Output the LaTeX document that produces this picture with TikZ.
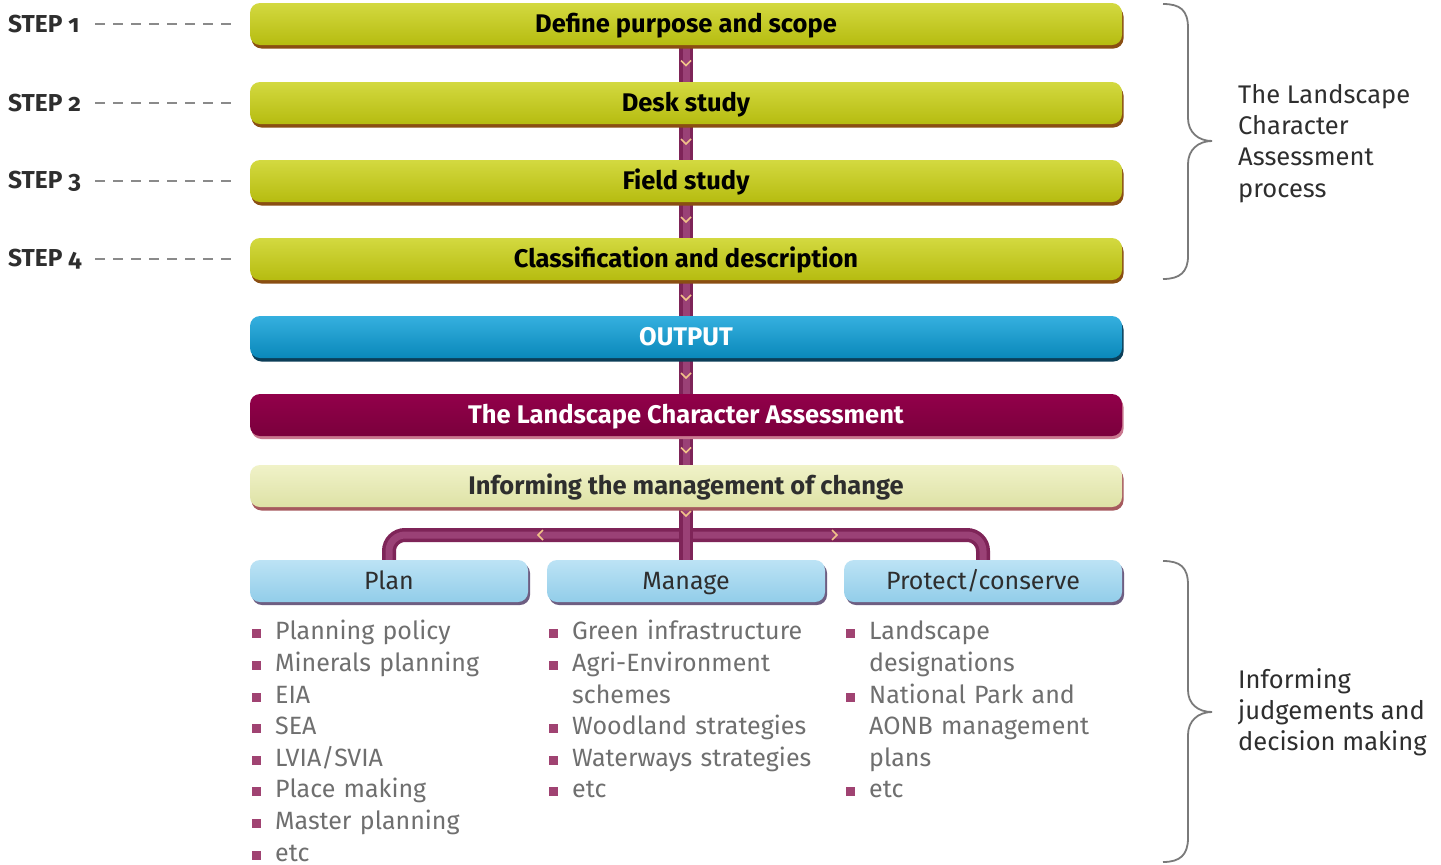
\documentclass[tikz,border=0pt]{standalone}
\usepackage{fontspec}
\setmainfont{Fira Sans}
\usetikzlibrary{shadows,calc}
\definecolor{yelT}{HTML}{D3D940}
\definecolor{yelB}{HTML}{B6BC10}
\definecolor{yelS}{HTML}{8A4E12}
\definecolor{outT}{HTML}{35B0DF}
\definecolor{outB}{HTML}{0A88BA}
\definecolor{outS}{HTML}{0B3E58}
\definecolor{lcaT}{HTML}{92004A}
\definecolor{lcaB}{HTML}{7A003C}
\definecolor{lcaS}{HTML}{C9788F}
\definecolor{infT}{HTML}{F0F2C8}
\definecolor{infB}{HTML}{DEE2A6}
\definecolor{infS}{HTML}{A65A5E}
\definecolor{subT}{HTML}{BCE3F5}
\definecolor{subB}{HTML}{92CDE9}
\definecolor{subS}{HTML}{6E5E82}
\definecolor{linkD}{HTML}{7E2458}
\definecolor{linkL}{HTML}{9A4176}
\definecolor{chevc}{HTML}{F2C389}
\definecolor{bulc}{HTML}{A04372}
\definecolor{listc}{HTML}{6F6F6F}
\definecolor{darkc}{HTML}{2E2E2E}
\definecolor{dashc}{HTML}{8A8A8A}
\definecolor{bracec}{HTML}{7A7A7A}
\pgfdeclarelayer{bg}
\pgfsetlayers{bg,main}
\newcommand\bitem[1]{\par\noindent\hangindent=23pt\hangafter=1\makebox[23pt][l]{\textcolor{bulc}{\rule[1.5pt]{9pt}{9pt}}}#1}
\tikzset{
  mainbox/.style={rounded corners=10pt, minimum width=872pt, minimum height=42pt, inner sep=0pt,
    text height=20pt, text depth=3pt,
    font=\fontsize{25.5}{28}\selectfont\bfseries},
  yelbox/.style={mainbox, top color=yelT, bottom color=yelB, text=black,
    drop shadow={shadow xshift=1.5pt, shadow yshift=-3.5pt, opacity=1, fill=yelS}},
  outbox/.style={mainbox, top color=outT, bottom color=outB, text=white,
    drop shadow={shadow xshift=1.5pt, shadow yshift=-3.5pt, opacity=1, fill=outS}},
  lcabox/.style={mainbox, top color=lcaT, bottom color=lcaB, text=white,
    drop shadow={shadow xshift=1.5pt, shadow yshift=-3pt, opacity=1, fill=lcaS}},
  infbox/.style={mainbox, top color=infT, bottom color=infB, text=darkc,
    drop shadow={shadow xshift=1.5pt, shadow yshift=-3.5pt, opacity=1, fill=infS}},
  subbox/.style={rounded corners=10pt, minimum width=278pt, minimum height=42pt, inner sep=0pt,
    text height=20pt, text depth=3pt,
    top color=subT, bottom color=subB, text=darkc, font=\fontsize{25}{28}\selectfont,
    drop shadow={shadow xshift=2pt, shadow yshift=-3pt, opacity=1, fill=subS}},
  link/.style={draw=linkD, line width=14pt, postaction={draw=linkL, line width=7pt}},
  chev/.style={draw=chevc, line width=1.6pt},
  steplbl/.style={anchor=west, inner sep=0pt, text=darkc,
    font=\fontsize{24.5}{26}\selectfont\bfseries\addfontfeature{Numbers=OldStyle}},
  stepdash/.style={draw=dashc, line width=1.6pt, dash pattern=on 10pt off 8pt},
  listnode/.style={anchor=north west, inner sep=0pt, text width=300pt, align=left, text=listc,
    font=\fontsize{25}{31.6}\selectfont},
  rtext/.style={anchor=north west, inner sep=0pt, align=left, text=darkc,
    font=\fontsize{25.5}{31.3}\selectfont},
  bracel/.style={draw=bracec, line width=1.8pt}
}
\begin{document}
\begin{tikzpicture}[x=1pt,y=-1pt]
\useasboundingbox (0,0) rectangle (1441,865);
\begin{pgfonlayer}{bg}
\fill[white] (0,0) rectangle (1441,865);
\end{pgfonlayer}

% main boxes
\node[yelbox] (s1) at (686,24) {Define purpose and scope};
\node[yelbox] (s2) at (686,103) {Desk study};
\node[yelbox] (s3) at (686,181) {Field study};
\node[yelbox] (s4) at (686,259) {Classification and description};
\node[outbox] (out) at (686,337) {OUTPUT};
\node[lcabox] (lca) at (686,415) {The Landscape Character Assessment};
\node[infbox] (inf) at (686,486) {Informing the management of change};

% sub boxes
\node[subbox] (plan) at (389,581) {Plan};
\node[subbox] (man) at (686,581) {Manage};
\node[subbox] (prot) at (983,581) {Protect/conserve};

% connectors
\begin{pgfonlayer}{bg}
\foreach \a/\b in {s1/s2,s2/s3,s3/s4,s4/out,out/lca,lca/inf}{
  \draw[link] (\a.south) -- (\b.north);
  \coordinate (m) at ($(\a.south)!0.5!(\b.north)$);
  \draw[chev] ($(m)+(-5,-3)$) -- ($(m)+(0,2)$) -- ($(m)+(5,-3)$);
}
\coordinate (br) at (686,535);
\draw[link, rounded corners=16pt] (plan.north) |- (br) -| (prot.north);
\draw[link] (inf.south) -- (man.north);
\draw[chev] (681,511) -- (686,516) -- (691,511);
\draw[chev] (543,530) -- (538,535) -- (543,540);
\draw[chev] (832,530) -- (837,535) -- (832,540);
\end{pgfonlayer}

% step labels
\node[steplbl] (t1) at (8,24) {STEP 1};
\node[steplbl] (t2) at (8,103) {STEP 2};
\node[steplbl] (t3) at (8,181) {STEP 3};
\node[steplbl] (t4) at (8,259) {STEP 4};
\coordinate (d1) at (236,24);
\coordinate (d2) at (236,103);
\coordinate (d3) at (236,181);
\coordinate (d4) at (236,259);
\draw[stepdash] (95,24) -- (d1);
\draw[stepdash] (95,103) -- (d2);
\draw[stepdash] (95,181) -- (d3);
\draw[stepdash] (95,259) -- (d4);

% lists
\node[listnode] (l1) at (252,608) {%
\bitem{Planning policy}
\bitem{Minerals planning}
\bitem{EIA}
\bitem{SEA}
\bitem{LVIA/SVIA}
\bitem{Place making}
\bitem{Master planning}
\bitem{etc}};
\node[listnode] (l2) at (549,608) {%
\bitem{Green infrastructure}
\bitem{Agri-Environment\newline schemes}
\bitem{Woodland strategies}
\bitem{Waterways strategies}
\bitem{etc}};
\node[listnode] (l3) at (846,608) {%
\bitem{Landscape\newline designations}
\bitem{National Park and\newline AONB management\newline plans}
\bitem{etc}};

% braces
\draw[bracel] (1163,4) .. controls (1180,4) and (1188,10) .. (1188,28) -- (1188,118)
  .. controls (1188,132) and (1198,141) .. (1212,141)
  .. controls (1198,141) and (1188,150) .. (1188,164) -- (1188,256)
  .. controls (1188,272) and (1180,279) .. (1163,279);
\draw[bracel] (1163,561) .. controls (1180,561) and (1188,567) .. (1188,585) -- (1188,690)
  .. controls (1188,704) and (1198,712) .. (1212,712)
  .. controls (1198,712) and (1188,721) .. (1188,735) -- (1188,838)
  .. controls (1188,855) and (1180,862) .. (1163,862);

\node[rtext] (r1) at (1238,84) {The Landscape\\Character\\Assessment\\process};
\node[rtext] (r2) at (1238,668) {Informing\\judgements and\\decision making};
\end{tikzpicture}
\end{document}
